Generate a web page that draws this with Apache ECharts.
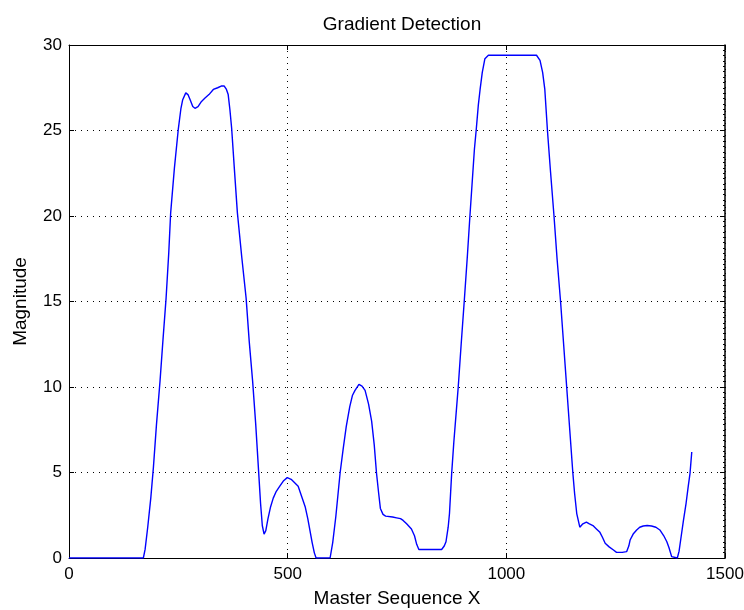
<!DOCTYPE html>
<html>
<head>
<meta charset="utf-8">
<script src="https://cdn.jsdelivr.net/npm/echarts@6/dist/echarts.min.js"></script>
<style>
  html, body { margin: 0; padding: 0; background: #fff; }
  #chart { width: 744px; height: 610px; }
</style>
</head>
<body>
<div id="chart"></div>
<script>
// Sample positions along the master sequence
const seqX = [
  0, 160, 170, 174, 180, 187, 193, 200, 208, 215, 222, 228, 232.5, 241, 250, 256, 260, 267, 272, 277,
  283, 288, 295, 303, 311, 320, 330, 340, 348, 355, 360, 364, 368, 372, 378, 385, 395, 405, 412, 420,
  427, 433, 438, 442, 446, 450, 455, 461, 467, 474, 482, 490, 499, 508, 516, 524, 532, 540, 546, 551,
  556, 561, 565, 597, 603, 610, 615, 620, 627, 634, 642, 648, 654, 663, 670, 677, 685, 692, 698, 703,
  708, 712, 718, 724, 740, 749, 758, 764, 772, 783, 790, 795, 800, 852, 858, 862, 867, 870, 875, 880,
  885, 890, 897, 904, 911, 917, 922, 927, 931, 936, 940, 945, 951, 959, 1069, 1077, 1083, 1088, 1091, 1094,
  1101, 1109, 1116, 1124, 1131, 1138, 1145, 1152, 1156, 1161, 1168, 1175, 1183, 1190, 1198, 1206, 1214, 1220, 1226,
  1235, 1245, 1252, 1265, 1275, 1280, 1283, 1290, 1298, 1305, 1313, 1322, 1332, 1342, 1351, 1360, 1367, 1372, 1378, 1380,
  1391, 1395, 1400, 1405, 1411, 1416, 1420, 1424
];

// Gradient magnitude at each position
const magnitude = [
  0, 0, 0, 0.5, 1.8, 3.5, 5.3, 7.8, 10.3, 12.8, 15.2, 17.8, 20.2, 22.8, 25.1, 26.3, 26.8, 27.2, 27.1, 26.8,
  26.4, 26.3, 26.4, 26.7, 26.9, 27.1, 27.4, 27.5, 27.6, 27.6, 27.4, 27.1, 26.2, 25.1, 22.8, 20.2, 17.6, 15.2, 12.7, 10.3,
  7.8, 5.3, 3.2, 1.9, 1.4, 1.6, 2.3, 3.0, 3.5, 3.9, 4.2, 4.5, 4.7, 4.6, 4.4, 4.2, 3.6, 3.0, 2.3, 1.6,
  0.9, 0.3, 0, 0, 0.9, 2.4, 3.7, 5.0, 6.4, 7.7, 8.85, 9.5, 9.8, 10.15, 10.05, 9.8, 9.0, 8.0, 6.6, 5.0,
  3.8, 2.9, 2.55, 2.45, 2.4, 2.35, 2.3, 2.2, 2.0, 1.7, 1.3, 0.8, 0.5, 0.5, 0.7, 0.95, 1.8, 2.6, 4.95, 6.8,
  8.4, 10.0, 12.6, 15.1, 17.7, 20.1, 22.0, 23.9, 25.0, 26.5, 27.4, 28.4, 29.2, 29.4, 29.4, 29.1, 28.4, 27.4, 26.2, 25.0,
  22.6, 20.0, 17.5, 15.0, 12.5, 10.0, 7.5, 5.0, 3.8, 2.6, 1.8, 2.0, 2.1, 2.0, 1.9, 1.7, 1.5, 1.2, 0.86,
  0.65, 0.47, 0.33, 0.33, 0.37, 0.7, 1.05, 1.4, 1.64, 1.8, 1.87, 1.9, 1.87, 1.8, 1.64, 1.3, 0.95, 0.6, 0.08, 0,
  0, 0.4, 1.3, 2.2, 3.2, 4.2, 4.95, 6.2
];

// Axis tick values
const xTicks = [0, 500, 1000, 1500];
const yTicks = [0, 5, 10, 15, 20, 25, 30];

const points = seqX.map((x, i) => [x, magnitude[i]]);

const FONT = 'Liberation Sans, Arial, sans-serif';
const gridDots = { color: '#000', width: 1, type: [1, 5] };
const boxLine = { show: true, onZero: false, lineStyle: { color: '#000', width: 1 } };
const innerTick = { show: true, inside: true, length: 5, lineStyle: { color: '#000' } };

const chart = echarts.init(document.getElementById('chart'), null, { renderer: 'canvas' });

chart.setOption({
  animation: false,
  backgroundColor: '#fff',
  title: {
    text: 'Gradient Detection',
    left: 397,
    top: 10,
    textAlign: 'center',
    textStyle: { fontFamily: FONT, fontSize: 19, fontWeight: 'normal', color: '#000' }
  },
  grid: { left: 69, right: 19, top: 45, bottom: 52, containLabel: false, outerBoundsMode: 'none' },
  xAxis: [
    {
      type: 'value',
      position: 'bottom',
      min: xTicks[0],
      max: xTicks[xTicks.length - 1],
      interval: xTicks[1] - xTicks[0],
      name: 'Master Sequence X',
      nameLocation: 'middle',
      nameGap: 31,
      nameTextStyle: { fontFamily: FONT, fontSize: 19, color: '#000' },
      axisLine: boxLine,
      axisTick: innerTick,
      axisLabel: { fontFamily: FONT, fontSize: 17, color: '#000', margin: 8, formatter: v => String(v) },
      splitLine: { show: true, lineStyle: gridDots }
    },
    {
      type: 'value',
      position: 'top',
      min: xTicks[0],
      max: xTicks[xTicks.length - 1],
      interval: xTicks[1] - xTicks[0],
      axisLine: boxLine,
      axisTick: innerTick,
      axisLabel: { show: false },
      splitLine: { show: false }
    }
  ],
  yAxis: [
    {
      type: 'value',
      position: 'left',
      min: yTicks[0],
      max: yTicks[yTicks.length - 1],
      interval: yTicks[1] - yTicks[0],
      name: 'Magnitude',
      nameLocation: 'middle',
      nameGap: 39,
      nameTextStyle: { fontFamily: FONT, fontSize: 19, color: '#000' },
      axisLine: boxLine,
      axisTick: innerTick,
      axisLabel: { fontFamily: FONT, fontSize: 17, color: '#000', margin: 7 },
      splitLine: { show: true, lineStyle: gridDots }
    },
    {
      type: 'value',
      position: 'right',
      min: yTicks[0],
      max: yTicks[yTicks.length - 1],
      interval: yTicks[1] - yTicks[0],
      axisLine: { show: true, onZero: false, lineStyle: { color: '#000', width: 1.5 } },
      axisTick: innerTick,
      minorTick: { show: true, splitNumber: 16, length: 2, lineStyle: { color: '#000' } },
      axisLabel: { show: false },
      splitLine: { show: false }
    }
  ],
  series: [
    {
      type: 'line',
      data: points,
      xAxisIndex: 0,
      yAxisIndex: 0,
      showSymbol: false,
      smooth: false,
      lineStyle: { color: '#0000ff', width: 1.4 },
      clip: true
    }
  ]
});
</script>
</body>
</html>
